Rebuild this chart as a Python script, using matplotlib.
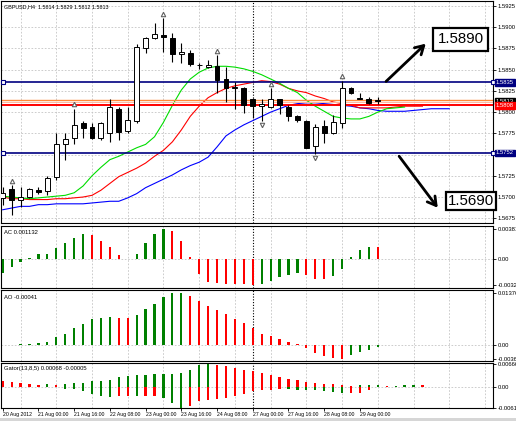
import numpy as np
import matplotlib
matplotlib.use("Agg")
import matplotlib.pyplot as plt
from matplotlib import transforms
from matplotlib.patches import Rectangle

plt.rcParams['font.family'] = ['Liberation Sans Narrow', 'Liberation Sans', 'DejaVu Sans']

# GBPUSD H4 candles, 20 Aug 2012 .. 29 Aug 2012
opens = [1.5699, 1.5709, 1.5697, 1.5700, 1.5708, 1.5707, 1.5723, 1.5763, 1.5769, 1.5787,
         1.5782, 1.5770, 1.5775, 1.5804, 1.5778, 1.5789, 1.5876, 1.5887, 1.5891, 1.5887,
         1.5868, 1.5870, 1.5856, 1.5853, 1.5854, 1.5839, 1.5828, 1.5828, 1.5816, 1.5807,
         1.5806, 1.5815, 1.5806, 1.5795, 1.5790, 1.5760, 1.5784, 1.5775, 1.5787, 1.5829,
         1.5817, 1.5815, 1.5814]
highs = [1.5712, 1.5714, 1.5712, 1.5711, 1.5712, 1.5725, 1.5775, 1.5775, 1.5804, 1.5789,
         1.5787, 1.5788, 1.5815, 1.5806, 1.5806, 1.5880, 1.5888, 1.5905, 1.5911, 1.5893,
         1.5881, 1.5873, 1.5858, 1.5861, 1.5867, 1.5853, 1.5836, 1.5830, 1.5817, 1.5815,
         1.5828, 1.5816, 1.5808, 1.5797, 1.5791, 1.5786, 1.5791, 1.5797, 1.5837, 1.5830,
         1.5823, 1.5818, 1.5818]
lows = [1.5691, 1.5679, 1.5688, 1.5699, 1.5704, 1.5702, 1.5720, 1.5744, 1.5763, 1.5769,
        1.5768, 1.5767, 1.5765, 1.5767, 1.5775, 1.5787, 1.5870, 1.5886, 1.5871, 1.5859,
        1.5858, 1.5854, 1.5851, 1.5852, 1.5822, 1.5812, 1.5804, 1.5799, 1.5793, 1.5790,
        1.5805, 1.5798, 1.5790, 1.5788, 1.5758, 1.5751, 1.5764, 1.5774, 1.5781, 1.5821,
        1.5815, 1.5809, 1.5810]
closes = [1.5705, 1.5696, 1.5700, 1.5709, 1.5706, 1.5722, 1.5762, 1.5768, 1.5785, 1.5781,
          1.5770, 1.5787, 1.5806, 1.5777, 1.5791, 1.5877, 1.5887, 1.5892, 1.5888, 1.5868,
          1.5871, 1.5857, 1.5855, 1.5856, 1.5838, 1.5829, 1.5830, 1.5808, 1.5807, 1.5810,
          1.5816, 1.5808, 1.5795, 1.5791, 1.5758, 1.5782, 1.5775, 1.5788, 1.5829, 1.5822,
          1.5816, 1.5811, 1.5813]

# alligator lines (already shifted forward, so they run past the last candle)
lips = [1.5701, 1.5700, 1.5699, 1.5698, 1.5699, 1.5700, 1.5701, 1.5702, 1.5705, 1.5713,
        1.5725, 1.5735, 1.5744, 1.5748, 1.5753, 1.5758, 1.5762, 1.5771, 1.5788, 1.5808,
        1.5826, 1.5839, 1.5847, 1.5852, 1.5854, 1.5854, 1.5853, 1.5851, 1.5848, 1.5844,
        1.5839, 1.5834, 1.5828, 1.5823, 1.5814, 1.5807, 1.5801, 1.5795, 1.5793, 1.5792,
        1.5792, 1.5795, 1.5800, 1.5804, 1.5805, 1.5806]
teeth = [1.5700, 1.5698, 1.5698, 1.5697, 1.5697, 1.5697, 1.5698, 1.5698, 1.5699, 1.5700,
         1.5702, 1.5708, 1.5716, 1.5724, 1.5729, 1.5734, 1.5740, 1.5748, 1.5755, 1.5765,
         1.5779, 1.5795, 1.5807, 1.5817, 1.5823, 1.5828, 1.5831, 1.5833, 1.5835, 1.5837,
         1.5836, 1.5833, 1.5828, 1.5825, 1.5823, 1.5819, 1.5816, 1.5812, 1.5810, 1.5808,
         1.5805, 1.5805, 1.5805, 1.5805, 1.5806, 1.5807, 1.5807, 1.5807]
jaw = [1.5685, 1.5687, 1.5689, 1.5689, 1.5691, 1.5691, 1.5692, 1.5692, 1.5692, 1.5692,
       1.5693, 1.5694, 1.5695, 1.5695, 1.5699, 1.5704, 1.5711, 1.5716, 1.5721, 1.5726,
       1.5732, 1.5737, 1.5741, 1.5747, 1.5759, 1.5772, 1.5779, 1.5785, 1.5790, 1.5795,
       1.5800, 1.5804, 1.5808, 1.5810, 1.5811, 1.5811, 1.5810, 1.5809, 1.5808, 1.5807,
       1.5805, 1.5804, 1.5802, 1.5801, 1.5801, 1.5801, 1.5802, 1.5803, 1.5804, 1.5804,
       1.5804]

# oscillators
ac_values = [-0.00174, -0.00106, -0.00034, 0.00009, 0.00060, 0.00063, 0.00136, 0.00200, 0.00270, 0.00314,
             0.00310, 0.00233, 0.00152, 0.00055, 0.00005, 0.00068, 0.00207, 0.00314, 0.003811, 0.00356,
             0.00233, 0.00025, -0.00191, -0.00288, -0.00309, -0.00316, -0.00320, -0.00322, -0.003265, -0.00322,
             -0.00279, -0.00224, -0.00203, -0.00182, -0.00203, -0.00250, -0.00253, -0.00212, -0.00123, 0.00021,
             0.00114, 0.00158, 0.00150]
ao_values = [0.00005, -0.00005, 0.00036, 0.00040, 0.00063, 0.00080, 0.00200, 0.00300, 0.00450, 0.00540,
             0.00680, 0.00710, 0.00730, 0.00712, 0.00709, 0.00780, 0.00950, 0.01090, 0.01260, 0.01370,
             0.01376, 0.01300, 0.01170, 0.01030, 0.00930, 0.00820, 0.00690, 0.00580, 0.00450, 0.00300,
             0.00240, 0.00170, 0.00090, 0.00030, -0.00090, -0.00200, -0.00290, -0.00350, -0.00362, -0.00250,
             -0.00180, -0.00135, -0.00060]
gator_up = [0.00165, 0.00145, 0.00125, 0.00096, 0.00067, 0.00078, 0.00058, 0.00096, 0.00102, 0.00116,
            0.00165, 0.00174, 0.00203, 0.00290, 0.00319, 0.00339, 0.00357, 0.00368, 0.00377, 0.00386,
            0.00415, 0.00502, 0.00629, 0.00666, 0.00647, 0.00600, 0.00551, 0.00502, 0.00455, 0.00415,
            0.00339, 0.00290, 0.00223, 0.00194, 0.00145, 0.00116, 0.00096, 0.00078, 0.00049, 0.00029,
            0.00049, 0.00058, 0.00068, 0.00029, 0.00038, 0.00049, 0.00058, 0.00049]
gator_down = [0.0, 0.0, 0.0, 0.0, 0.0, 0.0, 0.0, -0.00058, -0.00067, -0.00125,
              -0.00223, -0.00270, -0.00299, -0.00281, -0.00270, -0.00276, -0.00267, -0.00261, -0.00339, -0.00464,
              -0.00611, -0.00560, -0.00415, -0.00397, -0.00368, -0.00319, -0.00270, -0.00223, -0.00125, -0.00096,
              -0.00087, -0.00067, -0.00073, -0.00078, -0.00087, -0.00096, -0.00125, -0.00165, -0.00194, -0.00183,
              -0.00174, -0.00096, -0.00005, -0.00017]

fractal_up = [1, 8, 18, 24, 30, 38]
fractal_down = [29, 35]

price_ticks = [1.5925, 1.5900, 1.5875, 1.5850, 1.5825, 1.5800, 1.5775, 1.5750, 1.5725, 1.5700, 1.5675]
time_ticks = [0, 4, 8, 12, 16, 20, 24, 28, 32, 36, 40]
time_labels = ['20 Aug 2012', '21 Aug 00:00', '21 Aug 16:00', '22 Aug 08:00', '23 Aug 00:00',
               '23 Aug 16:00', '24 Aug 08:00', '27 Aug 00:00', '27 Aug 16:00', '28 Aug 08:00',
               '29 Aug 00:00']

# horizontal levels drawn on the chart
support_lines = [1.5835, 1.5752]
orange_level = 1.5814
red_level = 1.5808

GREEN = '#008000'
RED = '#ff0000'
GRID = '#c4c4c4'
SMALL = 4.2

W, H = 516, 421
fig = plt.figure(figsize=(W / 100, H / 100), dpi=100)


def panel(top, bottom):
    # pixel rows -> figure fraction box
    return [1 / W, 1 - bottom / H, 492 / W, (bottom - top) / H]


ax_main = fig.add_axes(panel(1, 223))
ax_ac = fig.add_axes(panel(226, 288), sharex=ax_main)
ax_ao = fig.add_axes(panel(290, 361), sharex=ax_main)
ax_gt = fig.add_axes(panel(363, 408), sharex=ax_main)
axes = [ax_main, ax_ac, ax_ao, ax_gt]

ax_main.set_xlim(-0.19, 54.9)

for ax in axes:
    for s in ax.spines.values():
        s.set_color('black')
        s.set_linewidth(0.8)
    ax.yaxis.tick_right()
    ax.tick_params(axis='y', length=2.5, width=0.6, pad=1, labelsize=SMALL, colors='black')
    ax.tick_params(axis='x', bottom=False, labelbottom=False)
    # vertical dashed grid every 4 bars
    for gx in range(2, 55, 4):
        ax.axvline(gx, color=GRID, lw=0.6, ls=(0, (2, 2)), zorder=0)
    # weekly separator
    ax.axvline(28, color='black', lw=0.8, ls=(0, (1, 1.5)), zorder=1)

# ---- main price panel ----
o = np.array(opens)
h = np.array(highs)
l = np.array(lows)
c = np.array(closes)
x = np.arange(len(o))
bull = c >= o

ax_main.set_ylim(1.56694, 1.59309)
ax_main.set_yticks(price_ticks)
ax_main.set_yticklabels(['%.4f' % p for p in price_ticks])
for p in price_ticks:
    ax_main.axhline(p, color=GRID, lw=0.6, ls=(0, (2, 2)), zorder=0)

ax_main.vlines(x, l, h, color='black', lw=0.8, zorder=3)
body_low = np.minimum(o, c)
body_h = np.maximum(np.abs(c - o), 0.00002)
ax_main.bar(x[bull], body_h[bull], bottom=body_low[bull], width=0.55,
            facecolor='white', edgecolor='black', linewidth=0.7, zorder=4)
ax_main.bar(x[~bull], body_h[~bull], bottom=body_low[~bull], width=0.55,
            facecolor='black', edgecolor='black', linewidth=0.7, zorder=4)

# alligator
ax_main.plot(np.arange(len(jaw)), jaw, color='#0000ff', lw=0.8, zorder=2)
ax_main.plot(np.arange(len(teeth)), teeth, color='#ff0000', lw=0.8, zorder=2)
ax_main.plot(np.arange(len(lips)), lips, color='#00dd00', lw=0.8, zorder=2)

# fractals
ax_main.plot(fractal_up, h[fractal_up] + 0.0005, ls='none', marker='^', ms=3.2,
             mfc='white', mec='#606060', mew=0.8, zorder=5)
ax_main.plot(fractal_down, l[fractal_down] - 0.0005, ls='none', marker='v', ms=3.2,
             mfc='white', mec='#606060', mew=0.8, zorder=5)

# horizontal levels
for lv in support_lines:
    ax_main.axhline(lv, color='#000080', lw=1.2, zorder=2)
    ax_main.plot([0.0, 54.9], [lv, lv], ls='none', marker='s', ms=2.6, mfc='white',
                 mec='#000080', mew=0.8, clip_on=False, zorder=6)
ax_main.axhline(orange_level, color='#ff8a3c', lw=1.0, zorder=2)
ax_main.axhline(orange_level - 0.0002, color='#ffb8a0', lw=0.7, zorder=2)
ax_main.axhline(red_level, color='#ff0000', lw=1.4, zorder=2)

# price boxes on the right scale
yt = transforms.blended_transform_factory(ax_main.transAxes, ax_main.transData)
tags = [(support_lines[0], '%.4f' % support_lines[0], '#000080'),
        (closes[-1], '%.4f' % closes[-1], 'black'),
        (red_level, '%.4f' % red_level, '#ff0000'),
        (support_lines[1], '%.4f' % support_lines[1], '#000080')]
for lv, txt, col in tags:
    ax_main.text(1.006, lv, txt, transform=yt, ha='left', va='center', fontsize=SMALL,
                 color='white', clip_on=False, zorder=7,
                 bbox=dict(boxstyle='square,pad=0.12', fc=col, ec=col))

ax_main.text(0.006, 0.985, 'GBPUSD,H4  1.5814 1.5829 1.5812 1.5813', transform=ax_main.transAxes,
             ha='left', va='top', fontsize=3.9, color='black')

# target boxes and arrows
ax_main.annotate('', xy=(47.6, 1.58829), xytext=(42.7, 1.58339),
                 arrowprops=dict(arrowstyle='->,head_length=0.6,head_width=0.35', lw=2.0, color='black'),
                 annotation_clip=False, zorder=8)
ax_main.annotate('', xy=(48.9, 1.56847), xytext=(44.2, 1.57507),
                 arrowprops=dict(arrowstyle='->,head_length=0.6,head_width=0.35', lw=2.0, color='black'),
                 annotation_clip=False, zorder=8)
ax_main.text(51.3, 1.5886, '1.5890', ha='center', va='center', fontsize=10.8,
             family='Liberation Sans', zorder=9, clip_on=False,
             bbox=dict(boxstyle='square,pad=0.3', fc='white', ec='black', lw=1.6))
ax_main.text(52.4, 1.5695, '1.5690', ha='center', va='center', fontsize=10.8,
             family='Liberation Sans', zorder=9, clip_on=False,
             bbox=dict(boxstyle='square,pad=0.12', fc='white', ec='black', lw=1.6))


# ---- oscillators ----
def step_colors(vals, first, use_abs=False):
    v = np.abs(vals) if use_abs else np.array(vals)
    cols = [first]
    for prev, cur in zip(v[:-1], v[1:]):
        cols.append(GREEN if cur > prev else RED)
    return cols


def sub_panel(ax, lo, hi, ticks, labels, title):
    ax.set_ylim(lo, hi)
    ax.set_yticks(ticks)
    ax.set_yticklabels(labels)
    ax.axhline(0, color=GRID, lw=0.6, ls=(0, (2, 2)), zorder=0)
    ax.text(0.006, 0.93, title, transform=ax.transAxes, ha='left', va='top',
            fontsize=SMALL, color='black')


ax_ac.bar(np.arange(len(ac_values)), ac_values, width=0.25,
          color=step_colors(ac_values, GREEN), zorder=3)
sub_panel(ax_ac, -0.00368, 0.00419, [0.003811, 0.0, -0.003265],
          ['0.003811', '0.00', '-0.003265'], 'AC 0.001132')

ax_ao.bar(np.arange(len(ao_values)), ao_values, width=0.25,
          color=step_colors(ao_values, RED), zorder=3)
sub_panel(ax_ao, -0.0042, 0.01447, [0.01376, 0.0, -0.00362],
          ['0.01376', '0.00', '-0.00362'], 'AO -0.00041')

ax_gt.bar(np.arange(len(gator_up)), gator_up, width=0.25,
          color=step_colors(gator_up, RED, True), zorder=3)
ax_gt.bar(np.arange(len(gator_down)), gator_down, width=0.25,
          color=step_colors(gator_down, RED, True), zorder=3)
sub_panel(ax_gt, -0.0062, 0.0070, [0.00666, 0.0, -0.00611],
          ['0.00666', '0.00', '-0.00611'], 'Gator(13,8,5) 0.00068 -0.00005')

# time scale under the last panel
ax_gt.tick_params(axis='x', bottom=True, labelbottom=True, length=2, width=0.6,
                  pad=1, labelsize=3.7, colors='black')
ax_gt.set_xticks(time_ticks)
ax_gt.set_xticklabels(time_labels, ha='left')

# scroll bar strip at the very bottom
fig.patches.append(Rectangle((0, 0), 1, 3 / H, transform=fig.transFigure,
                             fc='#d6d6d6', ec='none'))

fig.savefig('out.png', dpi=100)
